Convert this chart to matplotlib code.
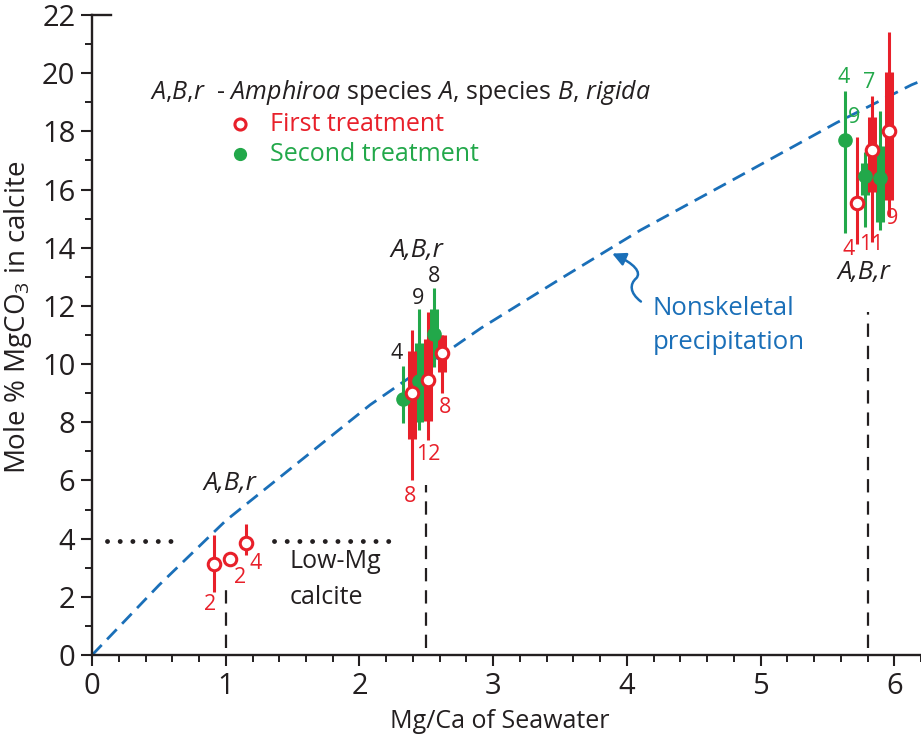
import numpy as np
import matplotlib
matplotlib.use('Agg')
import matplotlib.pyplot as plt
from matplotlib.patches import FancyArrowPatch
from matplotlib.path import Path

# Fonts
plt.rcParams['font.family'] = ['Open Sans', 'DejaVu Sans']
plt.rcParams['mathtext.fontset'] = 'custom'
plt.rcParams['mathtext.rm'] = 'Open Sans'
plt.rcParams['mathtext.it'] = 'Open Sans:italic'

RED = '#E8202A'
GREEN = '#22A84A'
BLUE = '#1A6FB8'
INK = '#231F20'

# Nonskeletal precipitation curve
curve_x = [0, 0.5, 1.0, 2.08, 2.91, 3.51, 4.10, 4.76, 5.57, 6.13, 6.21]
curve_y = [0, 2.4, 4.62, 8.6, 11.24, 12.95, 14.6, 16.25, 18.3, 19.6, 19.75]

# First treatment: x, mean, whisker low/high, box low/high
red_x = [0.91, 1.03, 1.15, 2.394, 2.51, 2.62, 5.72, 5.835, 5.96]
red_mean = [3.13, 3.29, 3.86, 8.99, 9.47, 10.39, 15.55, 17.35, 18.0]
red_lo = [2.18, np.nan, 3.44, 6.01, 7.39, 8.99, 14.13, 14.2, 15.1]
red_hi = [4.12, np.nan, 4.52, 11.17, 11.8, 11.0, 17.8, 19.2, 21.4]
red_box_lo = [np.nan, np.nan, np.nan, 7.41, 8.04, 9.73, np.nan, 15.9, 15.65]
red_box_hi = [np.nan, np.nan, np.nan, 10.45, 10.86, 11.0, np.nan, 18.5, 20.05]

# Second treatment
green_x = [2.326, 2.445, 2.557, 5.63, 5.78, 5.89]
green_mean = [8.8, 9.42, 11.05, 17.7, 16.45, 16.4]
green_lo = [7.96, 7.73, 9.91, 14.49, 14.7, 14.6]
green_hi = [9.94, 11.88, 12.6, 19.4, 17.3, 18.7]
green_box_lo = [np.nan, 8.02, 10.25, np.nan, 15.8, 14.9]
green_box_hi = [np.nan, 10.71, 11.91, np.nan, 16.9, 17.5]

# Sample counts
n_labels = ['2', '2', '4', '4', '8', '9', '12', '8', '8',
            '4', '9', '7', '4', '11', '9']
n_x = [0.88, 1.11, 1.22, 2.28, 2.38, 2.44, 2.515, 2.555, 2.64,
       5.62, 5.70, 5.81, 5.662, 5.825, 5.985]
n_y = [1.72, 2.68, 3.16, 10.37, 5.45, 12.27, 6.9, 13.0, 8.5,
       19.86, 18.49, 19.69, 13.95, 14.12, 15.0]
n_col = [RED, RED, RED, INK, RED, INK, RED, INK, RED,
         GREEN, GREEN, GREEN, RED, RED, RED]

# Experiment Mg/Ca levels
exp_x = [1.0, 2.5, 5.8]
exp_top = [2.25, 5.85, 11.8]
abr_x = [1.03, 2.43, 5.77]
abr_y = [5.9, 13.9, 13.15]

low_mg = 3.93

fig = plt.figure(figsize=(9.21, 7.34), dpi=100)
ax = fig.add_axes([0.1, 0.1076, 0.9, 0.872])

ax.plot(curve_x, curve_y, color=BLUE, lw=2, ls=(0, (5, 2.8)), zorder=2)

for x, top in zip(exp_x, exp_top):
    ax.plot([x, x], [0.25, top], color=INK, lw=1.6, ls=(0, (6, 4)), zorder=1)

ax.plot([0.11, 0.6], [low_mg, low_mg], color=INK, lw=3.5,
        ls=(0, (0.01, 2.6)), dash_capstyle='round', zorder=1)
ax.plot([1.36, 2.27], [low_mg, low_mg], color=INK, lw=3.5,
        ls=(0, (0.01, 2.6)), dash_capstyle='round', zorder=1)


def draw_bars(xs, lo, hi, blo, bhi, col, z):
    for i in range(len(xs)):
        zz = z + i * 0.1
        if not np.isnan(lo[i]):
            ax.plot([xs[i], xs[i]], [lo[i], hi[i]], color=col, lw=2.2,
                    solid_capstyle='butt', zorder=zz)
        if not np.isnan(blo[i]):
            ax.plot([xs[i], xs[i]], [blo[i], bhi[i]], color=col, lw=6.5,
                    solid_capstyle='butt', zorder=zz)


draw_bars(green_x, green_lo, green_hi, green_box_lo, green_box_hi, GREEN, 3)
draw_bars(red_x, red_lo, red_hi, red_box_lo, red_box_hi, RED, 3.05)
ax.plot(green_x, green_mean, 'o', ls='none', color=GREEN, ms=9.5, zorder=5)
ax.plot(red_x, red_mean, 'o', ls='none', mfc='white', mec=RED, mew=2.2,
        ms=9, zorder=5.5)

for t, x, y, c in zip(n_labels, n_x, n_y, n_col):
    ax.text(x, y, t, color=c, fontsize=15.5, ha='center', va='center', zorder=6)

for x, y in zip(abr_x, abr_y):
    ax.text(x, y, 'A,B,r', fontsize=18.5, style='italic', color=INK,
            ha='center', va='center')

ax.text(1.48, 3.2, 'Low-Mg', fontsize=18, color=INK, ha='left', va='center')
ax.text(1.48, 1.96, 'calcite', fontsize=18, color=INK, ha='left', va='center')

ax.text(4.19, 11.9, 'Nonskeletal', fontsize=18.5, color=BLUE, ha='left', va='center')
ax.text(4.19, 10.75, 'precipitation', fontsize=18.5, color=BLUE, ha='left', va='center')
wiggle = Path([(4.105, 12.15), (4.02, 12.45), (4.02, 12.75), (4.07, 12.95),
               (4.11, 13.15), (4.06, 13.45), (3.89, 13.8)],
              [Path.MOVETO, Path.CURVE4, Path.CURVE4, Path.CURVE4,
               Path.CURVE4, Path.CURVE4, Path.CURVE4])
arrow = FancyArrowPatch(path=wiggle, color=BLUE, lw=1.8,
                        arrowstyle='-|>', mutation_scale=20)
ax.add_patch(arrow)

# Legend
ax.text(0.43, 19.35,
        r'$A{,}B{,}r$  - $Amphiroa$ species $A{,}$ species $B{,}$ $rigida$',
        fontsize=18, color=INK, ha='left', va='center')
ax.plot(1.11, 18.25, 'o', mfc='white', mec=RED, mew=2.2, ms=8)
ax.plot(1.11, 17.22, 'o', color=GREEN, ms=8.5)
ax.text(1.33, 18.25, 'First treatment', fontsize=18, color=RED,
        ha='left', va='center')
ax.text(1.33, 17.22, 'Second treatment', fontsize=18, color=GREEN,
        ha='left', va='center')

ax.set_xlim(0, 6.2)
ax.set_ylim(0, 22)
ax.set_xticks(np.arange(0, 7, 1))
ax.set_xticks(np.arange(0, 6.21, 0.2), minor=True)
ax.set_yticks(np.arange(0, 23, 2))
ax.set_yticks(np.arange(0, 23, 1), minor=True)
ax.tick_params(which='major', length=8, width=1.5, labelsize=21,
               colors=INK, pad=4)
ax.tick_params(which='minor', length=5, width=1.4, colors=INK)
for s in ['top', 'right']:
    ax.spines[s].set_visible(False)
for s in ['left', 'bottom']:
    ax.spines[s].set_linewidth(1.7)
    ax.spines[s].set_color(INK)
ax.spines['left'].set_bounds(0, 22)
# short cap at the top of the y axis
ax.plot([0, 0.14], [22, 22], color=INK, lw=1.7, clip_on=False)

ax.set_xlabel('Mg/Ca of Seawater', fontsize=18, color=INK)
ax.set_ylabel(r'Mole % MgCO$_3$ in calcite', fontsize=20, color=INK)
ax.xaxis.set_label_coords(0.492, -0.084)
ax.yaxis.set_label_coords(-0.07, 0.527)

fig.savefig('out.png', dpi=100)
